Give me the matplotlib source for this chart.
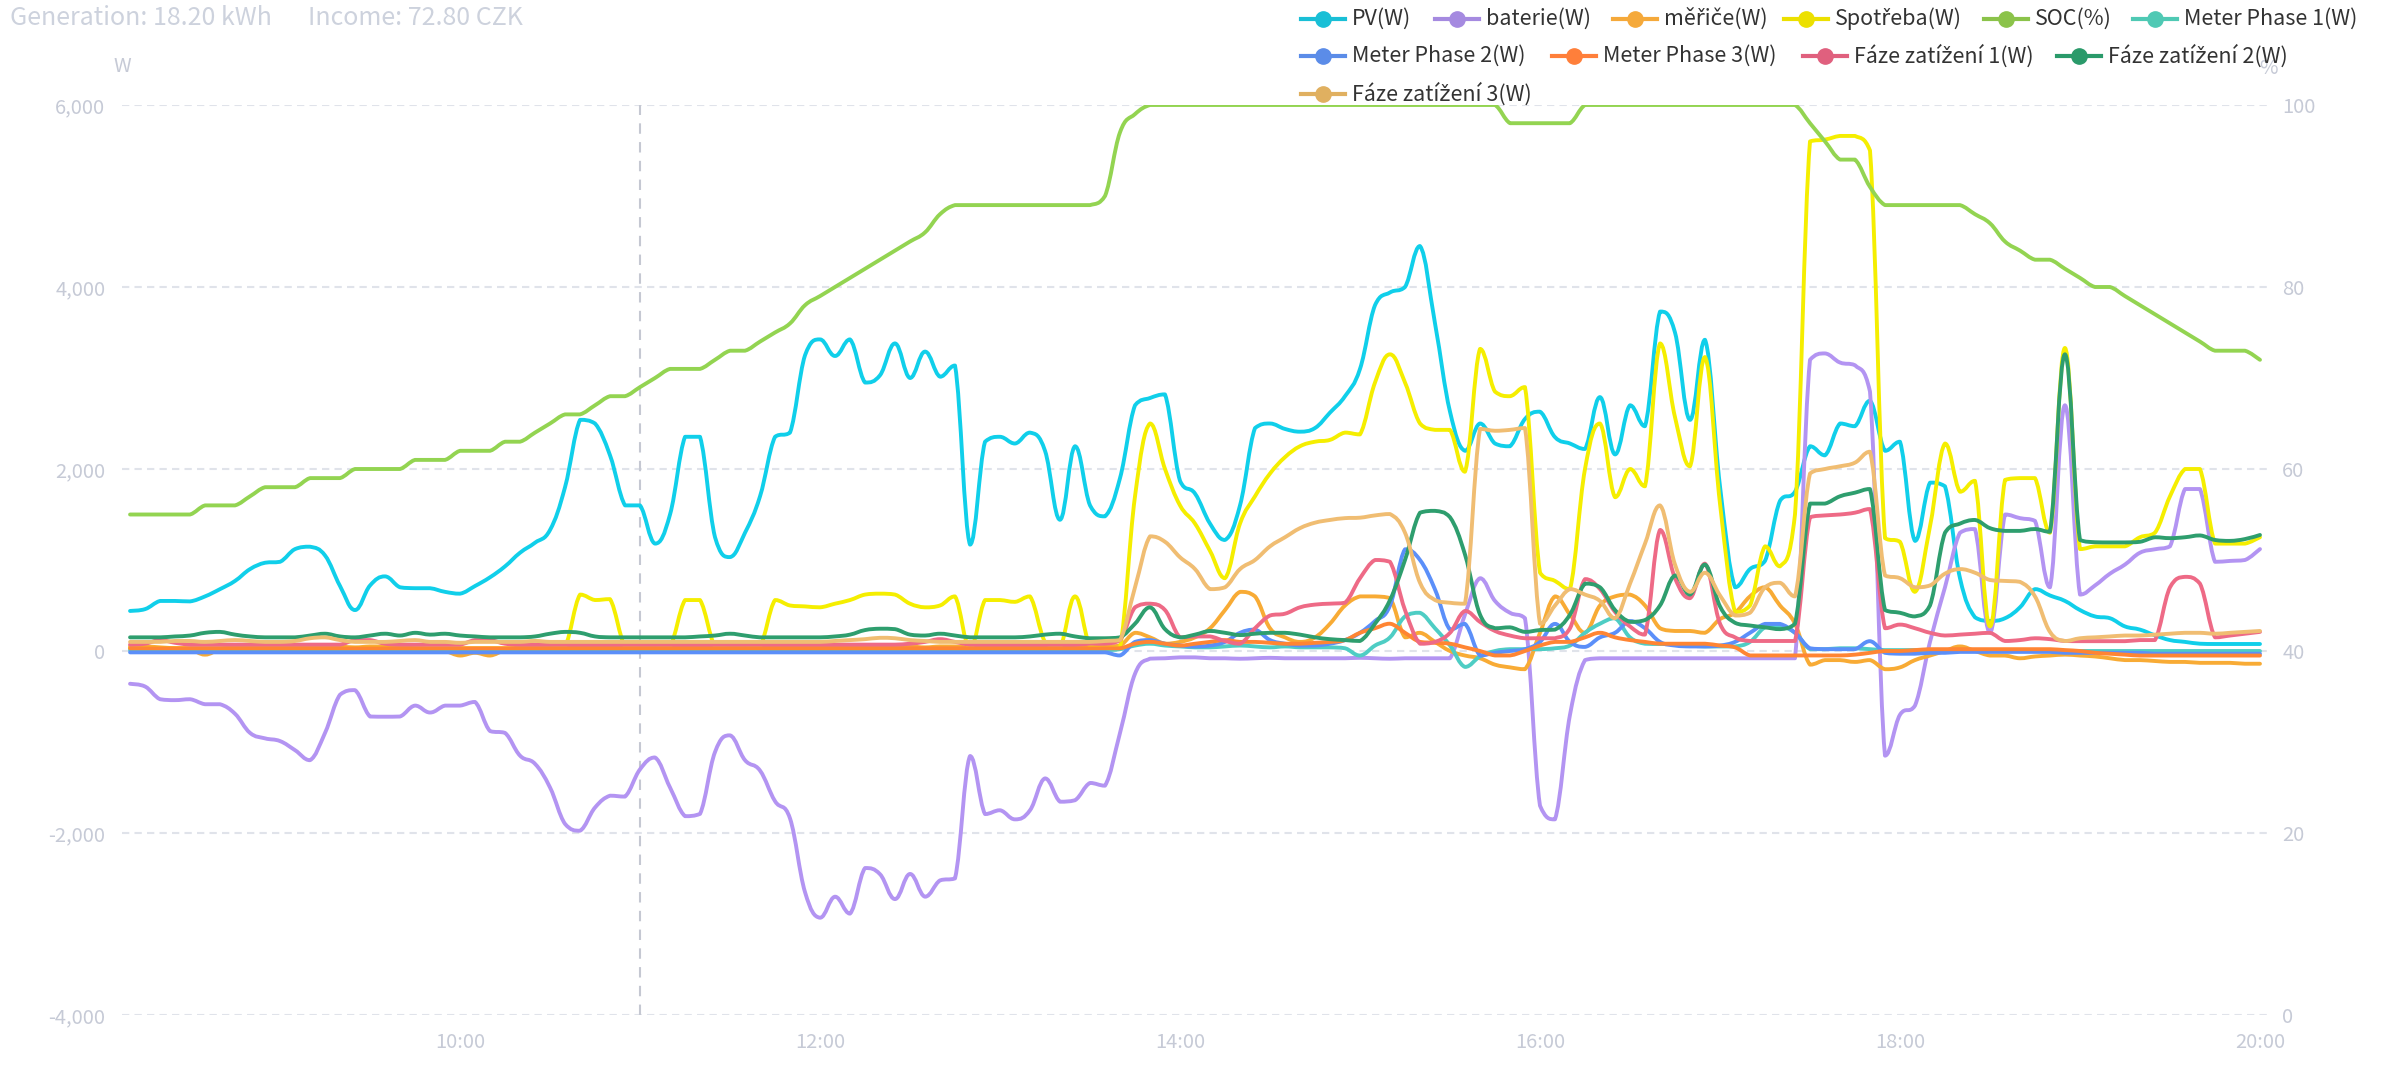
import numpy as np
import pandas as pd
import matplotlib
matplotlib.use("Agg")
import matplotlib.pyplot as plt
from matplotlib.path import Path
from matplotlib.patches import PathPatch
from matplotlib.lines import Line2D

plt.rcParams['font.family'] = ['Noto Sans CJK SC', 'DejaVu Sans']

# 5-minute samples, 08:10 .. 20:00 (143 points)
times = pd.date_range("2024-01-01 08:10", "2024-01-01 20:00", freq="5min")
hours = times.hour + times.minute / 60

pv = [440, 460, 550, 550, 545, 600, 680, 770, 900, 970, 980, 1120,
      1146, 1050, 714, 450, 720, 820, 700, 690, 690, 650, 630, 714,
      810, 930, 1080, 1190, 1330, 1800, 2540, 2500, 2150, 1600, 1600, 1180,
      1500, 2354, 2354, 1250, 1032, 1300, 1700, 2354, 2400, 3250, 3424, 3242,
      3424, 2950, 3030, 3380, 3000, 3290, 3014, 3137, 1169, 2300, 2354, 2280,
      2400, 2200, 1442, 2250, 1600, 1480, 1900, 2700, 2780, 2820, 1870, 1730,
      1400, 1220, 1600, 2450, 2500, 2440, 2410, 2450, 2620, 2800, 3100, 3800,
      3940, 4000, 4450, 3600, 2630, 2200, 2500, 2280, 2250, 2550, 2630, 2350,
      2280, 2220, 2790, 2160, 2700, 2470, 3730, 3500, 2540, 3420, 1810, 700,
      900, 990, 1650, 1750, 2250, 2150, 2500, 2470, 2750, 2200, 2300, 1210,
      1850, 1810, 800, 370, 330, 360, 480, 680, 610, 550, 450, 380,
      360, 270, 235, 172, 120, 100, 80, 77, 77, 77, 77]
baterie = [-360, -390, -530, -540, -530, -585, -585, -690, -900, -960, -990, -1090,
           -1200, -900, -480, -430, -720, -722, -720, -600, -676, -600, -600, -560,
           -880, -900, -1150, -1240, -1500, -1900, -1975, -1720, -1590, -1600, -1300, -1170,
           -1500, -1815, -1790, -1110, -927, -1200, -1314, -1650, -1840, -2650, -2931, -2700,
           -2886, -2385, -2453, -2726, -2450, -2700, -2521, -2499, -1154, -1792, -1750, -1850,
           -1750, -1400, -1656, -1640, -1450, -1480, -900, -250, -84, -80, -70, -70,
           -80, -80, -85, -80, -75, -80, -80, -80, -80, -80, -75, -80,
           -85, -80, -80, -80, -80, 400, 800, 550, 420, 360, -1700, -1850,
           -700, -100, -80, -80, -80, -80, -80, -80, -80, -80, -80, -80,
           -80, -80, -80, -80, 3200, 3270, 3170, 3140, 2850, -1150, -700, -600,
           100, 700, 1300, 1340, 200, 1500, 1460, 1430, 700, 2700, 620, 720,
           850, 950, 1080, 1118, 1150, 1780, 1780, 980, 990, 1000, 1120]
merice = [50, 50, 40, 30, 20, -40, 20, 40, 50, 50, 40, 50,
          50, 60, 50, 40, 50, 50, 40, 30, 20, 0, -50, -20,
          -50, 10, 40, 50, 50, 40, 50, 50, 40, 50, 50, 40,
          50, 50, 40, 50, 50, 40, 50, 50, 40, 50, 50, 40,
          50, 50, 40, 50, 50, 40, 50, 50, 40, 50, 50, 40,
          50, 50, 40, 50, 50, 50, 60, 200, 150, 80, 100, 150,
          250, 450, 650, 600, 250, 150, 100, 150, 300, 500, 600, 600,
          580, 150, 200, 100, 0, -50, -80, -150, -180, -200, 200, 600,
          400, 200, 500, 600, 620, 500, 250, 220, 220, 200, 350, 420,
          600, 700, 500, 300, -150, -100, -100, -120, -100, -200, -180, -100,
          -50, 0, 50, 0, -50, -50, -80, -60, -50, -40, -50, -60,
          -80, -100, -100, -110, -120, -120, -130, -130, -130, -140, -140]
spotreba = [30, 30, 30, 30, 30, 30, 30, 30, 30, 30, 30, 30,
            30, 30, 30, 30, 30, 30, 30, 30, 30, 30, 30, 30,
            30, 30, 30, 30, 30, 50, 620, 560, 570, 50, 30, 30,
            50, 560, 560, 50, 30, 30, 50, 560, 500, 490, 480, 520,
            560, 620, 630, 620, 520, 480, 500, 600, 30, 560, 560, 540,
            600, 100, 40, 600, 50, 30, 40, 1700, 2500, 2000, 1600, 1400,
            1100, 800, 1400, 1700, 1950, 2130, 2250, 2300, 2320, 2400, 2380, 2950,
            3260, 2950, 2500, 2430, 2430, 1970, 3320, 2850, 2800, 2900, 860, 770,
            680, 2000, 2500, 1690, 2000, 1810, 3380, 2570, 2030, 3230, 1620, 430,
            500, 1150, 930, 1500, 5600, 5620, 5660, 5660, 5500, 1240, 1200, 650,
            1370, 2280, 1750, 1870, 270, 1880, 1900, 1900, 1300, 3330, 1120, 1150,
            1150, 1150, 1250, 1300, 1700, 2000, 2000, 1180, 1180, 1180, 1250]
soc = [55, 55, 55, 55, 55, 56, 56, 56, 57, 58, 58, 58,
       59, 59, 59, 60, 60, 60, 60, 61, 61, 61, 62, 62,
       62, 63, 63, 64, 65, 66, 66, 67, 68, 68, 69, 70,
       71, 71, 71, 72, 73, 73, 74, 75, 76, 78, 79, 80,
       81, 82, 83, 84, 85, 86, 88, 89, 89, 89, 89, 89,
       89, 89, 89, 89, 89, 90, 97, 99, 100, 100, 100, 100,
       100, 100, 100, 100, 100, 100, 100, 100, 100, 100, 100, 100,
       100, 100, 100, 100, 100, 100, 100, 100, 98, 98, 98, 98,
       98, 100, 100, 100, 100, 100, 100, 100, 100, 100, 100, 100,
       100, 100, 100, 100, 98, 96, 94, 94, 91, 89, 89, 89,
       89, 89, 89, 88, 87, 85, 84, 83, 83, 82, 81, 80,
       80, 79, 78, 77, 76, 75, 74, 73, 73, 73, 72]
phase1 = [10, 10, 10, 10, 10, 10, 10, 10, 10, 10, 10, 10,
          10, 10, 10, 10, 10, 10, 10, 10, 10, 10, 10, 10,
          10, 10, 10, 10, 10, 10, 10, 10, 10, 10, 10, 10,
          10, 10, 10, 10, 10, 10, 10, 10, 10, 10, 10, 10,
          10, 10, 10, 10, 10, 10, 10, 10, 10, 10, 10, 10,
          10, 10, 10, 10, 10, 10, 20, 60, 80, 60, 50, 40,
          40, 50, 60, 50, 40, 50, 40, 40, 40, 30, -50, 60,
          150, 380, 420, 250, 60, -175, -60, 0, 20, 20, 20, 30,
          60, 200, 300, 360, 150, 80, 77, 77, 60, 50, 50, 50,
          100, 260, 270, 200, 20, 20, 30, 30, 20, 10, 10, 10,
          10, 10, 10, 10, 10, 0, 0, 0, 0, 0, 0, 0,
          0, 0, 0, 0, 0, 0, 0, 0, 0, 0, 0]
phase2 = [-15, -15, -15, -15, -15, -15, -15, -15, -15, -15, -15, -15,
          -15, -15, -15, -15, -15, -15, -15, -15, -15, -15, -15, -15,
          -15, -15, -15, -15, -15, -15, -15, -15, -15, -15, -15, -15,
          -15, -15, -15, -15, -15, -15, -15, -15, -15, -15, -15, -15,
          -15, -15, -15, -15, -15, -15, -15, -15, -15, -15, -15, -15,
          -15, -15, -15, -15, -15, -15, -49, 100, 120, 80, 60, 50,
          60, 100, 200, 235, 120, 80, 60, 60, 80, 120, 200, 329,
          500, 1118, 1000, 676, 235, 298, -49, -20, 0, 20, 100, 298,
          100, 45, 150, 200, 329, 250, 100, 60, 50, 50, 60, 100,
          200, 298, 298, 200, 30, 20, 20, 20, 108, -20, -30, -30,
          -20, -20, -10, -10, -10, -10, -10, -10, -10, -20, -20, -20,
          -20, -20, -20, -30, -30, -30, -30, -30, -30, -30, -30]
phase3 = [30, 30, 30, 30, 30, 30, 30, 30, 30, 30, 30, 30,
          30, 30, 30, 30, 30, 30, 30, 30, 30, 30, 30, 30,
          30, 30, 30, 30, 30, 30, 30, 30, 30, 30, 30, 30,
          30, 30, 30, 30, 30, 30, 30, 30, 30, 30, 30, 30,
          30, 30, 30, 30, 30, 30, 30, 30, 30, 30, 30, 30,
          30, 30, 30, 30, 30, 30, 30, 80, 100, 80, 60, 80,
          100, 120, 100, 100, 90, 80, 80, 90, 100, 120, 200, 250,
          300, 200, 100, 90, 80, 40, 0, -49, -49, 0, 60, 100,
          100, 150, 200, 150, 120, 100, 80, 80, 80, 80, 60, 40,
          -49, -49, -49, -49, -49, -49, -49, -40, -20, 0, 0, 10,
          20, 20, 20, 20, 20, 20, 20, 20, 20, 10, 0, -20,
          -30, -40, -50, -50, -50, -50, -50, -50, -50, -50, -50]
faze1 = [70, 80, 120, 90, 70, 70, 70, 70, 70, 70, 70, 70,
         70, 70, 70, 120, 120, 80, 70, 70, 70, 70, 70, 120,
         120, 80, 70, 70, 70, 70, 70, 70, 70, 70, 70, 70,
         70, 70, 70, 70, 70, 70, 70, 70, 70, 70, 70, 70,
         70, 70, 70, 70, 80, 100, 130, 100, 70, 70, 70, 70,
         70, 70, 70, 70, 80, 80, 120, 480, 520, 450, 150, 160,
         160, 110, 80, 250, 390, 410, 480, 510, 520, 530, 800, 1000,
         980, 450, 80, 100, 200, 440, 320, 220, 170, 140, 140, 140,
         250, 790, 680, 430, 270, 180, 1330, 800, 580, 960, 300, 150,
         110, 110, 110, 110, 1470, 1490, 1500, 1520, 1560, 250, 290, 250,
         200, 170, 180, 190, 200, 110, 120, 140, 130, 110, 108, 108,
         108, 108, 120, 120, 700, 815, 740, 150, 170, 190, 210]
faze2 = [150, 150, 150, 160, 170, 200, 210, 180, 160, 150, 150, 150,
         170, 190, 160, 150, 170, 190, 170, 200, 180, 190, 170, 160,
         150, 150, 150, 160, 190, 210, 200, 160, 150, 150, 150, 150,
         150, 150, 160, 170, 190, 170, 150, 150, 150, 150, 150, 160,
         180, 230, 245, 240, 180, 170, 190, 170, 150, 150, 150, 150,
         160, 180, 190, 160, 140, 140, 150, 300, 480, 240, 150, 180,
         220, 200, 175, 190, 200, 200, 180, 150, 130, 120, 110, 300,
         560, 1000, 1520, 1540, 1470, 1060, 400, 250, 260, 210, 230, 235,
         400, 740, 700, 450, 320, 340, 500, 830, 620, 950, 490, 310,
         280, 260, 240, 300, 1620, 1620, 1700, 1740, 1780, 450, 420, 380,
         500, 1300, 1400, 1440, 1350, 1320, 1320, 1340, 1310, 3260, 1220, 1195,
         1193, 1193, 1200, 1250, 1240, 1250, 1270, 1220, 1210, 1230, 1275]
faze3 = [100, 100, 100, 110, 110, 100, 110, 120, 110, 100, 100, 110,
         140, 150, 120, 100, 100, 100, 110, 120, 100, 100, 90, 100,
         100, 100, 100, 110, 100, 100, 100, 100, 100, 100, 100, 100,
         100, 100, 100, 100, 100, 100, 100, 100, 100, 100, 100, 110,
         120, 130, 145, 140, 120, 110, 100, 100, 100, 100, 100, 100,
         100, 100, 100, 100, 100, 110, 120, 700, 1260, 1200, 1030, 900,
         680, 700, 900, 1000, 1150, 1250, 1350, 1410, 1440, 1460, 1465, 1490,
         1505, 1300, 750, 560, 530, 520, 2440, 2420, 2430, 2450, 300, 500,
         680, 620, 550, 360, 740, 1180, 1600, 950, 650, 860, 610, 390,
         420, 700, 750, 600, 1950, 2000, 2030, 2070, 2190, 830, 800, 700,
         720, 850, 900, 860, 780, 770, 760, 600, 210, 110, 140, 150,
         160, 170, 170, 180, 190, 200, 200, 190, 200, 210, 220]

names = ["PV(W)", "baterie(W)", "měřiče(W)", "Spotřeba(W)", "SOC(%)", "Meter Phase 1(W)",
         "Meter Phase 2(W)", "Meter Phase 3(W)", "Fáze zatížení 1(W)", "Fáze zatížení 2(W)",
         "Fáze zatížení 3(W)"]
line_colors = ["#10cfea", "#b394f2", "#f8ab35", "#f5ee00", "#93d451", "#4ecdc4",
               "#5b8ff9", "#ff8533", "#ee6a86", "#2e9e6e", "#f0bd72"]
legend_colors = ["#19bfd6", "#a58ae0", "#f5a93a", "#ece000", "#8bc34a", "#4fc9b4",
                 "#5b8ce8", "#ff7f3a", "#e0607e", "#2a9a6a", "#e0b060"]
series = [pv, baterie, merice, spotreba, soc, phase1, phase2, phase3, faze1, faze2, faze3]

grid_c = "#e0e3ea"
label_c = "#c6cad6"


def smooth_path(x, y, k=0.2):
    # bezier through the points; control points kept inside each segment's range
    x = np.asarray(x, float)
    y = np.asarray(y, float)
    n = len(x)
    verts = [(x[0], y[0])]
    codes = [Path.MOVETO]
    for i in range(n - 1):
        p0 = max(i - 1, 0)
        p3 = min(i + 2, n - 1)
        lo, hi = min(y[i], y[i + 1]), max(y[i], y[i + 1])
        c1y = np.clip(y[i] + (y[i + 1] - y[p0]) * k, lo, hi)
        c2y = np.clip(y[i + 1] - (y[p3] - y[i]) * k, lo, hi)
        c1 = (x[i] + (x[i + 1] - x[p0]) * k, c1y)
        c2 = (x[i + 1] - (x[p3] - x[i]) * k, c2y)
        verts += [c1, c2, (x[i + 1], y[i + 1])]
        codes += [Path.CURVE4] * 3
    return Path(verts, codes)


fig = plt.figure(figsize=(23.9, 10.85), dpi=100)
ax = fig.add_axes([122 / 2390, 1 - 1015 / 1085, (2267 - 122) / 2390, (1015 - 105) / 1085])
ax2 = ax.twinx()

ax.set_xlim(8.122, 20.039)
ax.set_ylim(-4000, 6000)
ax2.set_ylim(0, 100)

yt = [-4000, -2000, 0, 2000, 4000, 6000]
for v in yt:
    ax.axhline(v, color=grid_c, lw=1.5, ls=(0, (3.5, 2.5)), zorder=0)
ax.axvline(11, color="#c5c8d2", lw=1.5, ls=(0, (5, 4)), zorder=0)

for i, (s, c) in enumerate(zip(series, line_colors)):
    target = ax2 if i == 4 else ax
    p = PathPatch(smooth_path(hours, s), facecolor="none", edgecolor=c, lw=2.8,
                  capstyle="round", joinstyle="round", zorder=2 + i * 0.1)
    target.add_patch(p)

ax.set_yticks(yt)
ax.set_yticklabels([f"{v:,}" for v in yt])
ax2.set_yticks([0, 20, 40, 60, 80, 100])
ax.set_xticks([10, 12, 14, 16, 18, 20])
ax.set_xticklabels(["10:00", "12:00", "14:00", "16:00", "18:00", "20:00"])
for a in (ax, ax2):
    for sp in a.spines.values():
        sp.set_visible(False)
    a.tick_params(length=0, labelsize=14.5, labelcolor=label_c)
ax.tick_params(axis="y", pad=12)
ax2.tick_params(axis="y", pad=11)
ax.tick_params(axis="x", pad=12)

fig.text(122 / 2390, 1 - 66 / 1085, "W", ha="center", va="center", fontsize=14.5, color=label_c)
fig.text(2268 / 2390, 1 - 68 / 1085, "%", ha="center", va="center", fontsize=14.5, color=label_c)
fig.text(10 / 2390, 1 - 18 / 1085, "Generation: 18.20 kWh",
         ha="left", va="center", fontsize=18, color="#cdd2dd")
fig.text(308 / 2390, 1 - 18 / 1085, "Income: 72.80 CZK",
         ha="left", va="center", fontsize=18, color="#cdd2dd")

# legend laid out like the original (3 rows)
leg_pos = [(1323, 19), (1457, 19), (1635, 19), (1806, 19), (2006, 19), (2155, 19),
           (1323, 56), (1574, 56), (1825, 56), (2079, 56), (1323, 94)]
for (px, py), name, c in zip(leg_pos, names, legend_colors):
    fx, fy = px / 2390, 1 - py / 1085
    fig.add_artist(Line2D([fx - 22 / 2390, fx + 22 / 2390], [fy, fy], color=c, lw=3,
                          transform=fig.transFigure))
    fig.add_artist(Line2D([fx], [fy], marker="o", ms=11, color=c, transform=fig.transFigure))
    fig.text(fx + 29 / 2390, fy, name, ha="left", va="center", fontsize=15.5, color="#333333")

fig.savefig("out.png", dpi=100)
